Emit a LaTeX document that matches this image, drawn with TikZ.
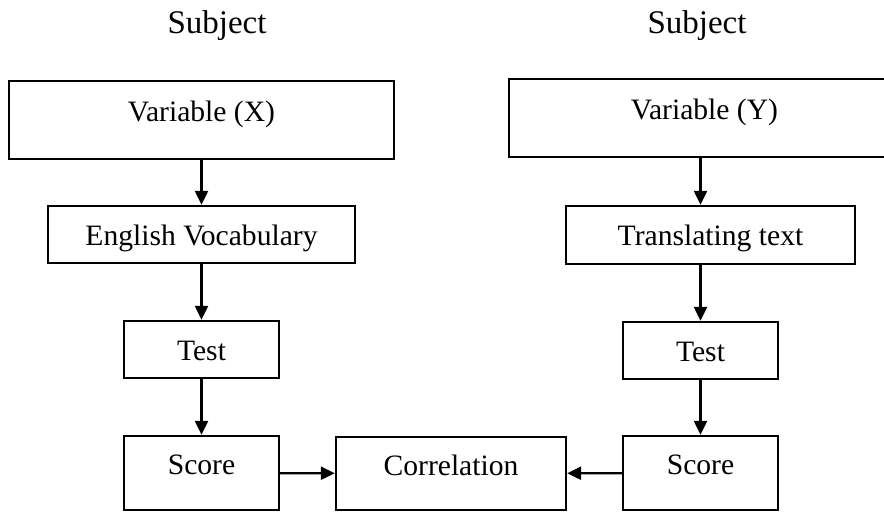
\documentclass[tikz,border=0pt]{standalone}
\usepackage{fontspec}
\setmainfont{Liberation Serif}
\usetikzlibrary{arrows.meta}
\begin{document}
\begin{tikzpicture}[x=0.5pt, y=-0.5pt,
		every node/.style={font=\fontsize{14.8}{17}\selectfont},
		stepbox/.style={draw, line width=1.15pt, inner sep=0pt, text height=11pt, text depth=0pt},
		tallbox/.style={stepbox, text height=10pt, text depth=8.4pt},
		flow/.style={line width=1.1pt, -{Triangle[length=7pt, width=6.5pt]}}]
		\useasboundingbox (0,0) rectangle (884,512);
		% Headings
		\node[font=\fontsize{16.5}{19}\selectfont] (subjX) at (217,26) {Subject};
		\node[font=\fontsize{16.5}{19}\selectfont] (subjY) at (697,26) {Subject};
		% Left column (X)
		\node[tallbox, minimum width=192.5pt, minimum height=39pt] (varX) at (201.5,120) {Variable (X)};
		\node[stepbox, minimum width=153.5pt, minimum height=28.5pt] (vocab) at (201.5,234.5) {English Vocabulary};
		\node[stepbox, minimum width=77.5pt, minimum height=28.5pt] (testX) at (201.5,349.5) {Test};
		\node[tallbox, minimum width=77.5pt, minimum height=37pt] (scoreX) at (201.5,473) {Score};
		% Right column (Y)
		\node[tallbox, minimum width=195.5pt, minimum height=39pt] (varY) at (704.5,118) {Variable (Y)};
		\node[stepbox, minimum width=144.5pt, minimum height=29pt] (transl) at (710.5,235) {Translating text};
		\node[stepbox, minimum width=77.5pt, minimum height=28.5pt] (testY) at (700.5,350.5) {Test};
		\node[tallbox, minimum width=77.5pt, minimum height=37pt] (scoreY) at (700.5,473) {Score};
		% Middle
		\node[tallbox, minimum width=115pt, minimum height=36.5pt] (corr) at (451,473.5) {Correlation};
		% Arrows
		\draw[flow] (varX) -- (vocab);
		\draw[flow] (vocab) -- (testX);
		\draw[flow] (testX) -- (scoreX);
		\draw[flow] (varY.south -| testY) -- (transl.north -| testY);
		\draw[flow] (transl.south -| testY) -- (testY);
		\draw[flow] (testY) -- (scoreY);
		\draw[flow] (scoreX) -- (corr);
		\draw[flow] (scoreY) -- (corr);
	\end{tikzpicture}
\end{document}
